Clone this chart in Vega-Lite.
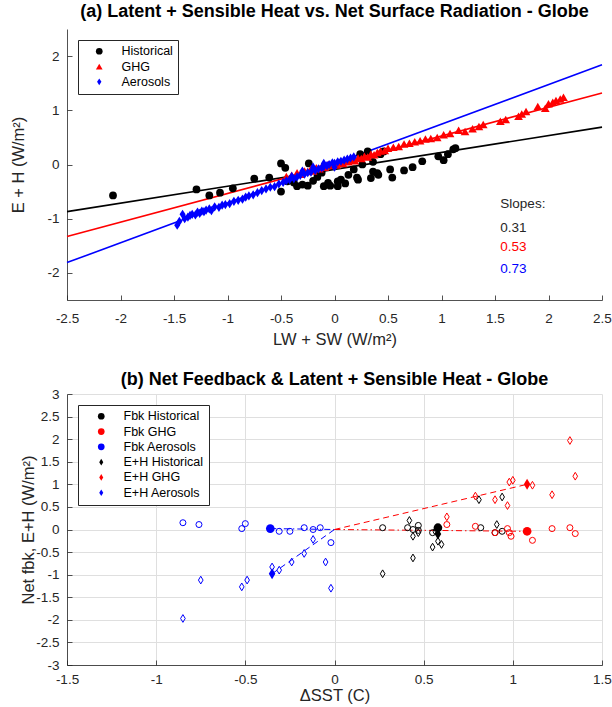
{
  "$schema": "https://vega.github.io/schema/vega-lite/v6.json",
  "autosize": {"type": "pad"},
  "padding": {"left": 10, "top": 3, "right": 5, "bottom": 3},
  "background": "white",
  "bounds": "flush",
  "spacing": 94,
  "config": {
    "font": "Liberation Sans",
    "view": {"stroke": null},
    "axis": {
      "domainColor": "#262626", "tickColor": "#262626", "labelColor": "#262626", "titleColor": "#262626",
      "labelFont": "Liberation Sans", "titleFont": "Liberation Sans",
      "labelFontSize": 13.5, "titleFontSize": 16.5, "titleFontWeight": "normal",
      "tickSize": -5, "domainWidth": 0.8, "tickWidth": 0.8,
      "labelFlush": false, "labelOverlap": false, "grid": false
    },
    "axisX": {"labelPadding": 16},
    "axisY": {"labelPadding": 13},
    "legend": {
      "orient": "top-left", "offset": 11, "strokeColor": "#262626", "fillColor": "white",
      "padding": 5, "labelFont": "Liberation Sans", "labelFontSize": 12.5, "labelColor": "#000000",
      "labelOffset": 16, "rowPadding": 2.3, "symbolSize": 45, "symbolStrokeWidth": 0
    },
    "title": {"font": "Liberation Sans", "fontSize": 18, "fontWeight": "bold", "color": "#000000", "anchor": "middle"}
  },
  "resolve": {
    "scale": {"x": "independent", "y": "independent", "color": "independent", "shape": "independent"},
    "legend": {"color": "independent", "shape": "independent"}
  },
  "vconcat": [
    {
      "width": 535,
      "height": 271,
      "title": {"text": "(a) Latent + Sensible Heat vs. Net Surface Radiation - Globe", "offset": 8},
      "layer": [
        {
          "data": {"values": [
            {"g": "Historical", "x": -2.5, "y": -0.87}, {"g": "Historical", "x": 2.5, "y": 0.69},
            {"g": "GHG", "x": -2.5, "y": -1.33}, {"g": "GHG", "x": 2.5, "y": 1.32},
            {"g": "Aerosols", "x": -2.5, "y": -1.81}, {"g": "Aerosols", "x": 2.5, "y": 1.84}
          ]},
          "mark": {"type": "line", "strokeWidth": 1.6},
          "encoding": {
            "x": {"field": "x", "type": "quantitative", "scale": {"domain": [-2.5, 2.5], "nice": false},
              "axis": {"values": [-2.5, -2, -1.5, -1, -0.5, 0, 0.5, 1, 1.5, 2, 2.5], "labelExpr": "'' + datum.value", "title": "LW + SW (W/m²)", "titlePadding": 7}},
            "y": {"field": "y", "type": "quantitative", "scale": {"domain": [-2.5, 2.5], "nice": false},
              "axis": {"values": [-2, -1, 0, 1, 2], "labelExpr": "'' + datum.value", "title": "E + H (W/m²)", "titlePadding": 20}},
            "detail": {"field": "g"},
            "color": {"condition": [{"test": "datum.g === 'GHG'", "value": "#ff0000"}, {"test": "datum.g === 'Aerosols'", "value": "#0000ff"}], "value": "#000000"}
          }
        },
        {
          "data": {"values": [
            {"g":"Historical","x":-2.07,"y":-0.57},{"g":"Historical","x":-1.29,"y":-0.46},{"g":"Historical","x":-1.17,"y":-0.57},{"g":"Historical","x":-1.07,"y":-0.52},{"g":"Historical","x":-0.95,"y":-0.44},{"g":"Historical","x":-0.75,"y":-0.26},{"g":"Historical","x":-0.61,"y":-0.24},{"g":"Historical","x":-0.50,"y":0.02},{"g":"Historical","x":-0.46,"y":-0.06},{"g":"Historical","x":-0.50,"y":-0.50},{"g":"Historical","x":-0.44,"y":-0.31},{"g":"Historical","x":-0.35,"y":-0.40},{"g":"Historical","x":-0.30,"y":-0.37},{"g":"Historical","x":-0.24,"y":0.02},{"g":"Historical","x":-0.25,"y":-0.39},{"g":"Historical","x":-0.16,"y":-0.23},{"g":"Historical","x":-0.10,"y":-0.40},{"g":"Historical","x":-0.06,"y":-0.34},{"g":"Historical","x":-0.04,"y":-0.39},{"g":"Historical","x":0.03,"y":-0.31},{"g":"Historical","x":0.03,"y":-0.40},{"g":"Historical","x":0.06,"y":-0.28},{"g":"Historical","x":0.13,"y":-0.19},{"g":"Historical","x":0.18,"y":-0.09},{"g":"Historical","x":0.21,"y":-0.24},{"g":"Historical","x":0.22,"y":-0.28},{"g":"Historical","x":0.24,"y":0.19},{"g":"Historical","x":0.26,"y":0.0},{"g":"Historical","x":0.31,"y":0.24},{"g":"Historical","x":0.34,"y":-0.25},{"g":"Historical","x":0.36,"y":0.05},{"g":"Historical","x":0.36,"y":-0.13},{"g":"Historical","x":0.40,"y":-0.16},{"g":"Historical","x":0.41,"y":-0.19},{"g":"Historical","x":0.43,"y":0.19},{"g":"Historical","x":0.46,"y":0.24},{"g":"Historical","x":0.52,"y":-0.09},{"g":"Historical","x":0.54,"y":-0.24},{"g":"Historical","x":0.65,"y":-0.11},{"g":"Historical","x":0.73,"y":-0.05},{"g":"Historical","x":0.82,"y":0.06},{"g":"Historical","x":0.97,"y":0.15},{"g":"Historical","x":1.02,"y":0.08},{"g":"Historical","x":1.06,"y":0.19},{"g":"Historical","x":1.11,"y":0.28},{"g":"Historical","x":1.13,"y":0.30},{"g":"Historical","x":-0.38,"y":-0.33},{"g":"Historical","x":-0.20,"y":-0.30},{"g":"Historical","x":0.10,"y":-0.35},{"g":"Historical","x":-0.12,"y":-0.15},
            {"g":"GHG","x":-0.45,"y":-0.22},{"g":"GHG","x":-0.40,"y":-0.20},{"g":"GHG","x":-0.35,"y":-0.15},{"g":"GHG","x":-0.32,"y":-0.18},{"g":"GHG","x":-0.28,"y":-0.12},{"g":"GHG","x":-0.25,"y":-0.13},{"g":"GHG","x":-0.22,"y":-0.08},{"g":"GHG","x":-0.20,"y":-0.12},{"g":"GHG","x":-0.17,"y":-0.06},{"g":"GHG","x":-0.14,"y":-0.08},{"g":"GHG","x":-0.12,"y":-0.04},{"g":"GHG","x":-0.09,"y":-0.05},{"g":"GHG","x":-0.06,"y":0.00},{"g":"GHG","x":-0.03,"y":-0.02},{"g":"GHG","x":0.0,"y":0.02},{"g":"GHG","x":0.02,"y":-0.01},{"g":"GHG","x":0.05,"y":0.04},{"g":"GHG","x":0.08,"y":0.02},{"g":"GHG","x":0.10,"y":0.06},{"g":"GHG","x":0.13,"y":0.05},{"g":"GHG","x":0.16,"y":0.09},{"g":"GHG","x":0.19,"y":0.07},{"g":"GHG","x":0.22,"y":0.12},{"g":"GHG","x":0.25,"y":0.11},{"g":"GHG","x":0.28,"y":0.15},{"g":"GHG","x":0.31,"y":0.14},{"g":"GHG","x":0.34,"y":0.19},{"g":"GHG","x":0.37,"y":0.18},{"g":"GHG","x":0.40,"y":0.22},{"g":"GHG","x":0.43,"y":0.25},{"g":"GHG","x":0.47,"y":0.26},{"g":"GHG","x":0.50,"y":0.30},{"g":"GHG","x":0.55,"y":0.32},{"g":"GHG","x":0.60,"y":0.33},{"g":"GHG","x":0.65,"y":0.38},{"g":"GHG","x":0.70,"y":0.39},{"g":"GHG","x":0.75,"y":0.42},{"g":"GHG","x":0.80,"y":0.44},{"g":"GHG","x":0.85,"y":0.47},{"g":"GHG","x":0.90,"y":0.48},{"g":"GHG","x":0.96,"y":0.50},{"g":"GHG","x":1.02,"y":0.55},{"g":"GHG","x":1.08,"y":0.57},{"g":"GHG","x":1.16,"y":0.63},{"g":"GHG","x":1.22,"y":0.61},{"g":"GHG","x":1.29,"y":0.66},{"g":"GHG","x":1.35,"y":0.70},{"g":"GHG","x":1.39,"y":0.74},{"g":"GHG","x":1.55,"y":0.80},{"g":"GHG","x":1.60,"y":0.83},{"g":"GHG","x":1.72,"y":0.89},{"g":"GHG","x":1.75,"y":0.93},{"g":"GHG","x":1.79,"y":0.98},{"g":"GHG","x":1.90,"y":1.07},{"g":"GHG","x":1.97,"y":1.04},{"g":"GHG","x":2.00,"y":1.12},{"g":"GHG","x":2.04,"y":1.15},{"g":"GHG","x":2.07,"y":1.18},{"g":"GHG","x":2.11,"y":1.21},{"g":"GHG","x":2.14,"y":1.24},
            {"g":"Aerosols","x":-1.47,"y":-1.12},{"g":"Aerosols","x":-1.45,"y":-1.05},{"g":"Aerosols","x":-1.42,"y":-0.92},{"g":"Aerosols","x":-1.40,"y":-1.00},{"g":"Aerosols","x":-1.37,"y":-0.97},{"g":"Aerosols","x":-1.35,"y":-0.94},{"g":"Aerosols","x":-1.33,"y":-0.92},{"g":"Aerosols","x":-1.30,"y":-0.93},{"g":"Aerosols","x":-1.28,"y":-0.88},{"g":"Aerosols","x":-1.26,"y":-0.90},{"g":"Aerosols","x":-1.24,"y":-0.86},{"g":"Aerosols","x":-1.22,"y":-0.87},{"g":"Aerosols","x":-1.20,"y":-0.84},{"g":"Aerosols","x":-1.17,"y":-0.82},{"g":"Aerosols","x":-1.15,"y":-0.85},{"g":"Aerosols","x":-1.12,"y":-0.78},{"g":"Aerosols","x":-1.08,"y":-0.79},{"g":"Aerosols","x":-1.05,"y":-0.75},{"g":"Aerosols","x":-1.02,"y":-0.74},{"g":"Aerosols","x":-0.98,"y":-0.72},{"g":"Aerosols","x":-0.94,"y":-0.68},{"g":"Aerosols","x":-0.90,"y":-0.66},{"g":"Aerosols","x":-0.86,"y":-0.64},{"g":"Aerosols","x":-0.83,"y":-0.60},{"g":"Aerosols","x":-0.80,"y":-0.58},{"g":"Aerosols","x":-0.76,"y":-0.56},{"g":"Aerosols","x":-0.72,"y":-0.52},{"g":"Aerosols","x":-0.68,"y":-0.48},{"g":"Aerosols","x":-0.64,"y":-0.45},{"g":"Aerosols","x":-0.60,"y":-0.42},{"g":"Aerosols","x":-0.56,"y":-0.41},{"g":"Aerosols","x":-0.52,"y":-0.36},{"g":"Aerosols","x":-0.48,"y":-0.33},{"g":"Aerosols","x":-0.45,"y":-0.30},{"g":"Aerosols","x":-0.42,"y":-0.28},{"g":"Aerosols","x":-0.38,"y":-0.26},{"g":"Aerosols","x":-0.35,"y":-0.23},{"g":"Aerosols","x":-0.32,"y":-0.20},{"g":"Aerosols","x":-0.28,"y":-0.18},{"g":"Aerosols","x":-0.25,"y":-0.15},{"g":"Aerosols","x":-0.22,"y":-0.14},{"g":"Aerosols","x":-0.18,"y":-0.11},{"g":"Aerosols","x":-0.15,"y":-0.08},{"g":"Aerosols","x":-0.12,"y":-0.06},{"g":"Aerosols","x":-0.10,"y":-0.04},{"g":"Aerosols","x":-0.07,"y":-0.02},{"g":"Aerosols","x":-0.05,"y":0.00},{"g":"Aerosols","x":-0.02,"y":0.03},{"g":"Aerosols","x":0.0,"y":0.02},{"g":"Aerosols","x":0.03,"y":0.05},{"g":"Aerosols","x":0.06,"y":0.06},{"g":"Aerosols","x":0.09,"y":0.08},{"g":"Aerosols","x":0.12,"y":0.10},{"g":"Aerosols","x":0.15,"y":0.12},{"g":"Aerosols","x":0.18,"y":0.14},{"g":"Aerosols","x":-0.30,"y":-0.12},{"g":"Aerosols","x":-0.20,"y":-0.05},{"g":"Aerosols","x":-0.10,"y":0.02},{"g":"Aerosols","x":-0.40,"y":-0.22},{"g":"Aerosols","x":0.0,"y":-0.05}
          ]},
          "mark": {"type": "point", "filled": true, "opacity": 1},
          "encoding": {
            "x": {"field": "x", "type": "quantitative"},
            "y": {"field": "y", "type": "quantitative"},
            "color": {"field": "g", "type": "nominal", "scale": {"domain": ["Historical", "GHG", "Aerosols"], "range": ["#000000", "#ff0000", "#0000ff"]}, "legend": {"title": null, "symbolOffset": 10}},
            "shape": {"field": "g", "type": "nominal", "scale": {"domain": ["Historical", "GHG", "Aerosols"], "range": ["circle", "triangle-up", "M0,-1L0.65,0L0,1L-0.65,0Z"]}, "legend": {"title": null, "symbolOffset": 10}},
            "size": {"condition": [{"test": "datum.g === 'GHG'", "value": 75}, {"test": "datum.g === 'Aerosols'", "value": 85}], "value": 60}
          }
        },
        {
          "data": {"values": [{"label": "Slopes:", "ty": -0.72}]},
          "mark": {"type": "text", "align": "left", "baseline": "middle", "fontSize": 13.5, "color": "#262626"},
          "encoding": {
            "x": {"datum": 1.55, "type": "quantitative"},
            "y": {"field": "ty", "type": "quantitative"},
            "text": {"field": "label"}
          }
        },
        {
          "data": {"values": [
            {"g": "Historical", "slope": "0.31", "ty": -1.17},
            {"g": "GHG", "slope": "0.53", "ty": -1.52},
            {"g": "Aerosols", "slope": "0.73", "ty": -1.93}
          ]},
          "mark": {"type": "text", "align": "left", "baseline": "middle", "fontSize": 13.5},
          "encoding": {
            "x": {"datum": 1.55, "type": "quantitative"},
            "y": {"field": "ty", "type": "quantitative"},
            "text": {"field": "slope"},
            "color": {"condition": [{"test": "datum.g === 'GHG'", "value": "#ff0000"}, {"test": "datum.g === 'Aerosols'", "value": "#0000ff"}], "value": "#262626"}
          }
        }
      ]
    },
    {
      "width": 535,
      "height": 271,
      "title": {"text": "(b) Net Feedback & Latent + Sensible Heat - Globe", "offset": -2},
      "encoding": {
        "x": {"field": "x", "type": "quantitative", "scale": {"domain": [-1.5, 1.5], "nice": false},
          "axis": {"values": [-1.5, -1, -0.5, 0, 0.5, 1, 1.5], "labelExpr": "'' + datum.value", "title": "ΔSST (C)", "titlePadding": 2, "labelPadding": 12, "grid": true, "gridColor": "#dfdfdf", "gridWidth": 1, "labelOverlap": false}},
        "y": {"field": "y", "type": "quantitative", "scale": {"domain": [-3, 3], "nice": false},
          "axis": {"values": [-3, -2.5, -2, -1.5, -1, -0.5, 0, 0.5, 1, 1.5, 2, 2.5, 3], "tickCount": 13, "labelExpr": "'' + datum.value", "title": "Net fbk, E+H (W/m²)", "titlePadding": -1, "grid": true, "gridColor": "#dfdfdf", "gridWidth": 1, "labelOverlap": false}}
      },
      "layer": [
        {
          "data": {"values": [
            {"s":"Fbk Aerosols","k":"Fbk","x":-0.36,"y":0.02},{"s":"Fbk Aerosols","k":"Fbk","x":0,"y":0},
            {"s":"E+H Aerosols","k":"E+H","x":-0.35,"y":-0.98},{"s":"E+H Aerosols","k":"E+H","x":0,"y":0},
            {"s":"Fbk GHG","k":"Fbk","x":0,"y":0},{"s":"Fbk GHG","k":"Fbk","x":1.08,"y":-0.04},
            {"s":"E+H GHG","k":"E+H","x":0,"y":0},{"s":"E+H GHG","k":"E+H","x":1.08,"y":1.0}
          ]},
          "mark": {"type": "line", "strokeWidth": 1},
          "encoding": {
            "detail": {"field": "s"},
            "color": {"condition": [{"test": "indexof(datum.s, 'GHG') >= 0", "value": "#ff0000"}, {"test": "indexof(datum.s, 'Aerosols') >= 0", "value": "#0000ff"}], "value": "#000000"},
            "strokeDash": {"condition": {"test": "datum.k === 'Fbk'", "value": [6, 3, 1.5, 3]}, "value": [6, 4]}
          }
        },
        {
          "data": {"values": [
            {"s":"Fbk Aerosols","k":"Fbk","x":-0.85,"y":0.15},{"s":"Fbk Aerosols","k":"Fbk","x":-0.76,"y":0.11},{"s":"Fbk Aerosols","k":"Fbk","x":-0.52,"y":0.02},{"s":"Fbk Aerosols","k":"Fbk","x":-0.50,"y":0.13},{"s":"Fbk Aerosols","k":"Fbk","x":-0.31,"y":-0.04},{"s":"Fbk Aerosols","k":"Fbk","x":-0.25,"y":-0.04},{"s":"Fbk Aerosols","k":"Fbk","x":-0.17,"y":0.04},{"s":"Fbk Aerosols","k":"Fbk","x":-0.12,"y":0.0},{"s":"Fbk Aerosols","k":"Fbk","x":-0.08,"y":0.04},{"s":"Fbk Aerosols","k":"Fbk","x":-0.02,"y":-0.29},
            {"s":"E+H Aerosols","k":"E+H","x":-0.85,"y":-1.97},{"s":"E+H Aerosols","k":"E+H","x":-0.75,"y":-1.12},{"s":"E+H Aerosols","k":"E+H","x":-0.52,"y":-1.27},{"s":"E+H Aerosols","k":"E+H","x":-0.49,"y":-1.12},{"s":"E+H Aerosols","k":"E+H","x":-0.35,"y":-0.83},{"s":"E+H Aerosols","k":"E+H","x":-0.31,"y":-0.90},{"s":"E+H Aerosols","k":"E+H","x":-0.24,"y":-0.72},{"s":"E+H Aerosols","k":"E+H","x":-0.17,"y":-0.53},{"s":"E+H Aerosols","k":"E+H","x":-0.12,"y":-0.22},{"s":"E+H Aerosols","k":"E+H","x":-0.05,"y":-0.72},{"s":"E+H Aerosols","k":"E+H","x":-0.02,"y":-1.30},
            {"s":"Fbk Historical","k":"Fbk","x":0.27,"y":0.04},{"s":"Fbk Historical","k":"Fbk","x":0.41,"y":0.04},{"s":"Fbk Historical","k":"Fbk","x":0.44,"y":0.0},{"s":"Fbk Historical","k":"Fbk","x":0.47,"y":0.09},{"s":"Fbk Historical","k":"Fbk","x":0.47,"y":-0.02},{"s":"Fbk Historical","k":"Fbk","x":0.55,"y":-0.07},{"s":"Fbk Historical","k":"Fbk","x":0.57,"y":-0.04},{"s":"Fbk Historical","k":"Fbk","x":0.82,"y":0.04},{"s":"Fbk Historical","k":"Fbk","x":0.90,"y":-0.07},{"s":"Fbk Historical","k":"Fbk","x":0.94,"y":-0.04},
            {"s":"E+H Historical","k":"E+H","x":0.42,"y":0.20},{"s":"E+H Historical","k":"E+H","x":0.44,"y":-0.15},{"s":"E+H Historical","k":"E+H","x":0.47,"y":-0.07},{"s":"E+H Historical","k":"E+H","x":0.44,"y":-0.63},{"s":"E+H Historical","k":"E+H","x":0.55,"y":-0.39},{"s":"E+H Historical","k":"E+H","x":0.58,"y":-0.26},{"s":"E+H Historical","k":"E+H","x":0.60,"y":-0.33},{"s":"E+H Historical","k":"E+H","x":0.81,"y":0.66},{"s":"E+H Historical","k":"E+H","x":0.91,"y":0.11},{"s":"E+H Historical","k":"E+H","x":0.94,"y":0.72},{"s":"E+H Historical","k":"E+H","x":0.27,"y":-0.98},
            {"s":"Fbk GHG","k":"Fbk","x":0.63,"y":0.11},{"s":"Fbk GHG","k":"Fbk","x":0.79,"y":0.07},{"s":"Fbk GHG","k":"Fbk","x":0.90,"y":-0.07},{"s":"Fbk GHG","k":"Fbk","x":0.97,"y":0.02},{"s":"Fbk GHG","k":"Fbk","x":0.98,"y":-0.07},{"s":"Fbk GHG","k":"Fbk","x":0.99,"y":-0.15},{"s":"Fbk GHG","k":"Fbk","x":1.11,"y":-0.24},{"s":"Fbk GHG","k":"Fbk","x":1.22,"y":0.02},{"s":"Fbk GHG","k":"Fbk","x":1.32,"y":0.04},{"s":"Fbk GHG","k":"Fbk","x":1.35,"y":-0.09},
            {"s":"E+H GHG","k":"E+H","x":0.63,"y":0.28},{"s":"E+H GHG","k":"E+H","x":0.79,"y":0.74},{"s":"E+H GHG","k":"E+H","x":0.90,"y":0.66},{"s":"E+H GHG","k":"E+H","x":0.97,"y":0.53},{"s":"E+H GHG","k":"E+H","x":0.98,"y":1.05},{"s":"E+H GHG","k":"E+H","x":1.00,"y":1.09},{"s":"E+H GHG","k":"E+H","x":1.11,"y":0.98},{"s":"E+H GHG","k":"E+H","x":1.22,"y":0.77},{"s":"E+H GHG","k":"E+H","x":1.32,"y":1.97},{"s":"E+H GHG","k":"E+H","x":1.35,"y":1.18}
          ]},
          "mark": {"type": "point", "filled": false, "strokeWidth": 1, "opacity": 1},
          "encoding": {
            "color": {"condition": [{"test": "indexof(datum.s, 'GHG') >= 0", "value": "#ff0000"}, {"test": "indexof(datum.s, 'Aerosols') >= 0", "value": "#0000ff"}], "value": "#000000"},
            "shape": {"condition": {"test": "datum.k === 'E+H'", "value": "M0,-1L0.6,0L0,1L-0.6,0Z"}, "value": "circle"},
            "size": {"condition": {"test": "datum.k === 'E+H'", "value": 60}, "value": 36}
          }
        },
        {
          "data": {"values": [
            {"s":"Fbk Historical","k":"Fbk","x":0.58,"y":0.04},
            {"s":"Fbk GHG","k":"Fbk","x":1.08,"y":-0.04},
            {"s":"Fbk Aerosols","k":"Fbk","x":-0.36,"y":0.02},
            {"s":"E+H Historical","k":"E+H","x":0.58,"y":-0.1},
            {"s":"E+H GHG","k":"E+H","x":1.08,"y":1.0},
            {"s":"E+H Aerosols","k":"E+H","x":-0.35,"y":-0.98}
          ]},
          "mark": {"type": "point", "filled": true, "opacity": 1},
          "encoding": {
            "color": {"field": "s", "type": "nominal", "scale": {"domain": ["Fbk Historical", "Fbk GHG", "Fbk Aerosols", "E+H Historical", "E+H GHG", "E+H Aerosols"], "range": ["#000000", "#ff0000", "#0000ff", "#000000", "#ff0000", "#0000ff"]}, "legend": {"title": null, "symbolOffset": 12}},
            "shape": {"field": "s", "type": "nominal", "scale": {"domain": ["Fbk Historical", "Fbk GHG", "Fbk Aerosols", "E+H Historical", "E+H GHG", "E+H Aerosols"], "range": ["circle", "circle", "circle", "M0,-1L0.6,0L0,1L-0.6,0Z", "M0,-1L0.6,0L0,1L-0.6,0Z", "M0,-1L0.6,0L0,1L-0.6,0Z"]}, "legend": {"title": null, "symbolOffset": 12}},
            "size": {"condition": {"test": "datum.k === 'E+H'", "value": 120}, "value": 75}
          }
        }
      ]
    }
  ]
}
